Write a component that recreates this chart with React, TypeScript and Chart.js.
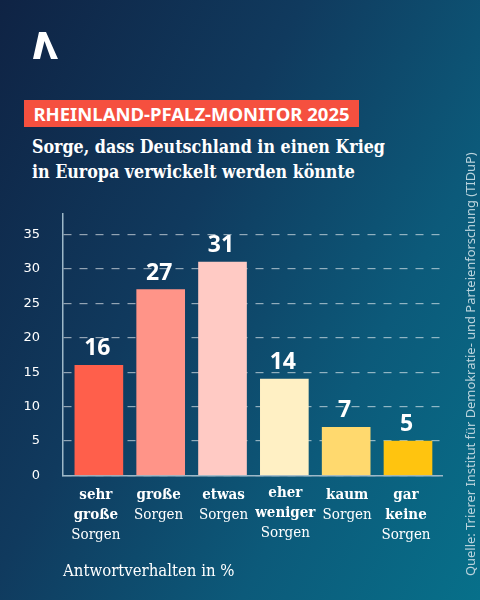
import React, { useEffect, useRef } from "react";
import { Chart, registerables } from "chart.js";

Chart.register(...registerables);

const boldLines = [["sehr", "große"], ["große"], ["etwas"], ["eher", "weniger"], ["kaum"], ["gar", "keine"]];
const plainLine = "Sorgen";
const values = [16, 27, 31, 14, 7, 5];
const barColors = ["#ff5f4b", "#ff9488", "#ffcac4", "#fff0c4", "#ffd96e", "#ffc40f"];
const yTicks = [0, 5, 10, 15, 20, 25, 30, 35];
const kicker = "RHEINLAND-PFALZ-MONITOR 2025";
const titleLines = ["Sorge, dass Deutschland in einen Krieg", "in Europa verwickelt werden könnte"];
const unitNote = "Antwortverhalten in %";
const source = "Quelle: Trierer Institut für Demokratie- und Parteienforschung (TIDuP)";

const SERIF = '"DejaVu Serif Condensed", "DejaVu Serif", serif';
const SANS = '"Noto Sans", sans-serif';

const labelNudgeX = [-3, -2, 1, 1, 1, -2];
const labelNudgeY = [0, 0, 0, -2, 0, 0];

const labelsPlugin = {
  id: "barTexts",
  afterDatasetsDraw(chart: any) {
    const { ctx, scales } = chart;
    const x = scales.x;
    const y = scales.y;
    ctx.save();
    ctx.textAlign = "center";
    ctx.textBaseline = "alphabetic";
    ctx.fillStyle = "#ffffff";
    values.forEach((v, i) => {
      const cx = x.getPixelForValue(i);
      ctx.font = `700 23px ${SANS}`;
      ctx.fillText(String(v), cx - 1.5, y.getPixelForValue(v) - 10);
      const lines = boldLines[i];
      const tx = cx + labelNudgeX[i];
      const ty = 499 + labelNudgeY[i];
      ctx.font = `700 15px ${SERIF}`;
      lines.forEach((l, k) => ctx.fillText(l, tx, ty + k * 20));
      ctx.font = `400 15px ${SERIF}`;
      ctx.fillText(plainLine, tx, ty + lines.length * 20);
    });
    ctx.restore();
  },
};

export default function App() {
  const ref = useRef<HTMLCanvasElement>(null);
  useEffect(() => {
    const chart = new Chart(ref.current!, {
      type: "bar",
      data: {
        datasets: [
          {
            data: values.map((v, i) => ({ x: i, y: v })),
            backgroundColor: barColors,
            barThickness: 48,
          },
        ],
      },
      options: {
        animation: false,
        responsive: false,
        layout: { padding: { top: 214, right: 38, bottom: 124.5, left: 0 } },
        plugins: { legend: { display: false }, tooltip: { enabled: false } },
        scales: {
          x: {
            type: "linear",
            offset: false,
            min: -0.58,
            max: 5.55,
            afterFit(scale: any) {
              scale.height = 0;
            },
            grid: { display: false, offset: false },
            border: { display: true, color: "#9db8c8", width: 1.5 },
            ticks: { display: false },
          },
          y: {
            min: 0,
            max: 38,
            afterFit(scale: any) {
              scale.width = 63;
            },
            afterBuildTicks(scale: any) {
              scale.ticks = yTicks.map((value) => ({ value }));
            },
            grid: { color: "rgba(255,255,255,0.55)", lineWidth: 1.2, drawTicks: false },
            border: { display: true, color: "#9db8c8", width: 1.5, dash: [8, 8] },
            ticks: {
              color: "#ffffff",
              font: { family: "'DejaVu Sans', sans-serif", size: 13 },
              padding: 23,
            },
          },
        },
      } as any,
      plugins: [labelsPlugin],
    });
    return () => chart.destroy();
  }, []);

  return (
    <div
      style={{
        position: "absolute",
        left: 0,
        top: 0,
        width: 480,
        height: 600,
        overflow: "hidden",
        background: "linear-gradient(118deg, #0f2344 0%, #103a5e 38%, #0c5a7a 70%, #07708a 100%)",
      }}
    >
      <svg style={{ position: "absolute", left: 33, top: 32 }} width="26" height="28" viewBox="0 0 26 28">
        <polygon points="6,0 13,0 25,27 18,27 11.5,9 7,27 0,27" fill="#ffffff" />
      </svg>
      <div
        style={{
          position: "absolute",
          left: 24,
          top: 100,
          width: 335,
          height: 27,
          background: "#f5503f",
          color: "#fff",
          font: `700 18.5px/27px ${SANS}`,
          textAlign: "center",
          whiteSpace: "nowrap",
        }}
      >
        {kicker}
      </div>
      {titleLines.map((t, i) => (
        <div
          key={t}
          style={{
            position: "absolute",
            left: 32,
            top: 134 + i * 24.5,
            color: "#fff",
            font: `700 17.7px/26px ${SERIF}`,
            whiteSpace: "nowrap",
          }}
        >
          {t}
        </div>
      ))}
      <canvas ref={ref} width={480} height={600} style={{ position: "absolute", left: 0, top: 0 }} />
      <div
        style={{
          position: "absolute",
          left: 63,
          top: 560,
          color: "#fff",
          font: `400 16.6px/22px ${SERIF}`,
          whiteSpace: "nowrap",
        }}
      >
        {unitNote}
      </div>
      <div
        style={{
          position: "absolute",
          left: 470,
          top: 576,
          color: "#b9d2dc",
          font: `400 12.9px/16px ${SANS}`,
          whiteSpace: "nowrap",
          transformOrigin: "0 0",
          transform: "rotate(-90deg) translateY(-8px)",
        }}
      >
        {source}
      </div>
    </div>
  );
}
